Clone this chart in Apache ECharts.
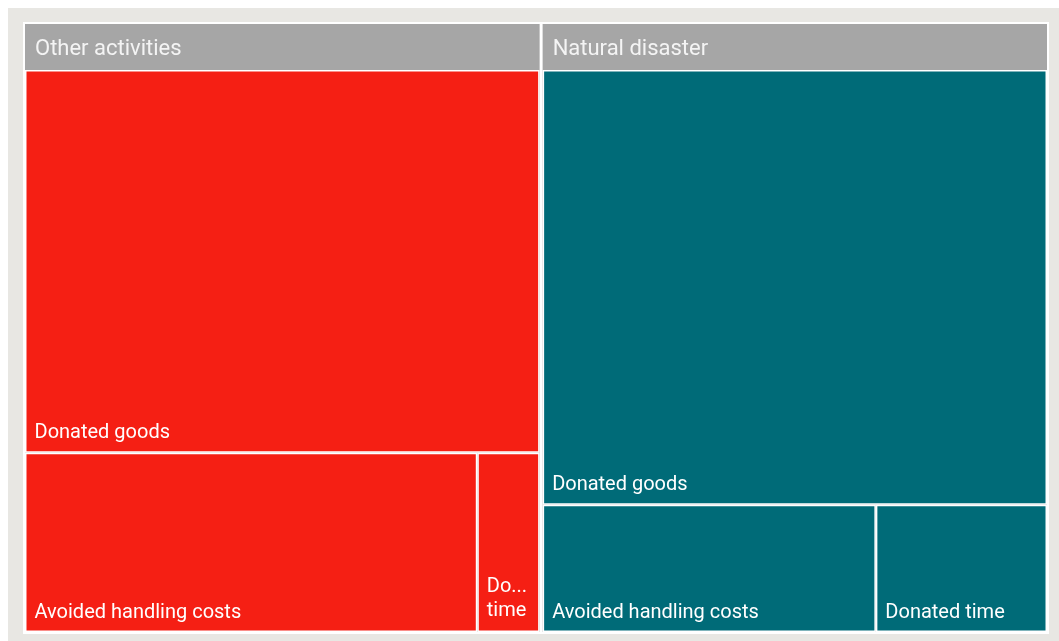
<!DOCTYPE html>
<html>
<head>
<meta charset="utf-8">
<script src="https://cdn.jsdelivr.net/npm/echarts@6/dist/echarts.min.js"></script>
<style>
  html, body { margin: 0; padding: 0; background: #fff; }
  #main { position: absolute; left: 8px; top: 8px; width: 1051px; height: 633px; background: #e8e7e3; }
</style>
</head>
<body>
<div id="main"></div>
<script>
// 数据
var groups = ['Other activities', 'Natural disaster'];
var categories = ['Donated goods', 'Avoided handling costs', 'Donated time'];
var otherValues = [34.4, 14.15, 1.95];
var disasterValues = [38.3, 7.4, 3.8];
var groupColors = ['#f51f14', '#006b78'];

var myChart = echarts.init(document.getElementById('main'));

function buildGroup(name, values, color, narrowIndex) {
  return {
    name: name,
    children: categories.map(function (c, i) {
      var item = { name: c, value: values[i], itemStyle: { color: color } };
      if (i === narrowIndex) {
        // 窄格子：分两行，超出截断
        item.label = {
          formatter: function (p) { return p.name.replace(' ', '\n'); },
          overflow: 'truncate',
          ellipsis: '...',
          lineHeight: 24
        };
      }
      return item;
    })
  };
}

var data = [
  buildGroup(groups[0], otherValues, groupColors[0], 2),
  buildGroup(groups[1], disasterValues, groupColors[1], -1)
];

var option = {
  series: [
    {
      type: 'treemap',
      left: 15,
      top: 14,
      width: 1026,
      height: 612,
      roam: false,
      nodeClick: false,
      breadcrumb: { show: false },
      animation: false,
      label: {
        show: true,
        position: 'insideBottomLeft',
        distance: 3,
        color: '#fff',
        fontFamily: 'Roboto',
        fontSize: 20,
        overflow: 'truncate'
      },
      levels: [
        {
          itemStyle: { borderColor: '#fff', borderWidth: 2, gapWidth: 3 }
        },
        {
          itemStyle: { borderColor: '#a6a6a6', borderWidth: 0, gapWidth: 0 },
          upperLabel: {
            show: true,
            height: 46,
            position: 'insideLeft',
            distance: 10,
            offset: [0, 2],
            color: '#f4f4f4',
            fontFamily: 'Roboto',
            fontSize: 22
          }
        },
        {
          itemStyle: { borderColor: '#fff', borderWidth: 1.5, gapWidth: 0 }
        }
      ],
      data: data
    }
  ]
};

myChart.setOption(option);
</script>
</body>
</html>
